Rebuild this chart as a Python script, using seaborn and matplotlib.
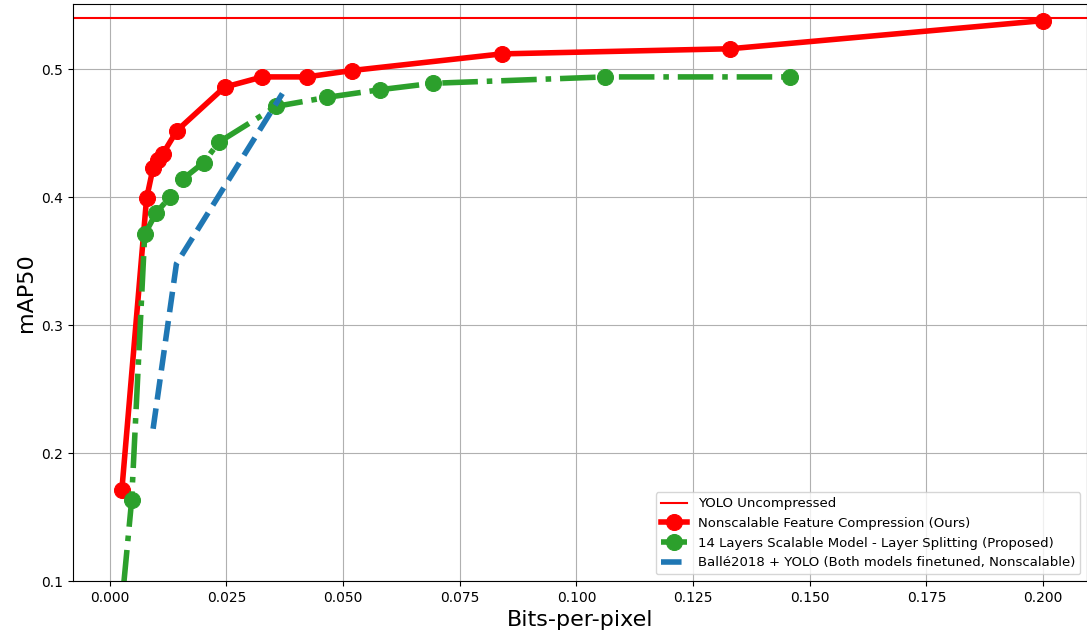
import matplotlib
matplotlib.use("Agg")
import matplotlib.pyplot as plt
import seaborn as sns

# Rate / accuracy operating points (bits-per-pixel, mAP50)
yolo_uncompressed_map = 0.54

ours_bpp = [0.0026, 0.0079, 0.0093, 0.0103, 0.0114, 0.0144, 0.0246, 0.0327,
            0.0422, 0.0519, 0.0840, 0.1329, 0.2000]
ours_map = [0.171, 0.399, 0.423, 0.429, 0.434, 0.452, 0.486, 0.494,
            0.494, 0.499, 0.512, 0.516, 0.538]

scalable_bpp = [0.0010, 0.0047, 0.0075, 0.0100, 0.0129, 0.0156, 0.0201, 0.0234,
                0.0357, 0.0465, 0.0579, 0.0692, 0.1061, 0.1458]
scalable_map = [0.020, 0.163, 0.371, 0.388, 0.400, 0.414, 0.427, 0.443,
                0.471, 0.478, 0.484, 0.489, 0.494, 0.494]

balle_bpp = [0.0093, 0.0143, 0.0370]
balle_map = [0.219, 0.348, 0.481]

labels = [
    "YOLO Uncompressed",
    "Nonscalable Feature Compression (Ours)",
    "14 Layers Scalable Model - Layer Splitting (Proposed)",
    "Ballé2018 + YOLO (Both models finetuned, Nonscalable)",
]

fig = plt.figure(figsize=(10.87, 6.43), dpi=100)
ax = fig.add_axes([0.067, 0.0964, 0.933, 0.8974])

ax.axhline(yolo_uncompressed_map, color="red", linewidth=1.5, label=labels[0])

sns.lineplot(x=ours_bpp, y=ours_map, ax=ax, sort=False, color="red",
             linewidth=4, linestyle="-", marker="o", markersize=11.5,
             markeredgecolor="red", label=labels[1])
sns.lineplot(x=scalable_bpp, y=scalable_map, ax=ax, sort=False, color="#2ca02c",
             linewidth=4, linestyle="-.", marker="o", markersize=11.5,
             markeredgecolor="#2ca02c", label=labels[2])
sns.lineplot(x=balle_bpp, y=balle_map, ax=ax, sort=False, color="#1f77b4",
             linewidth=4, linestyle="--", label=labels[3])

ax.set_xlim(-0.0079, 0.2094)
ax.set_ylim(0.1, 0.551)
ax.grid(True, color="#b0b0b0", linewidth=0.8)
ax.set_xlabel("Bits-per-pixel", fontsize=16)
ax.set_ylabel("mAP50", fontsize=16)
ax.legend(loc="lower right", fontsize=9.5)

fig.savefig("out.png", dpi=100)
